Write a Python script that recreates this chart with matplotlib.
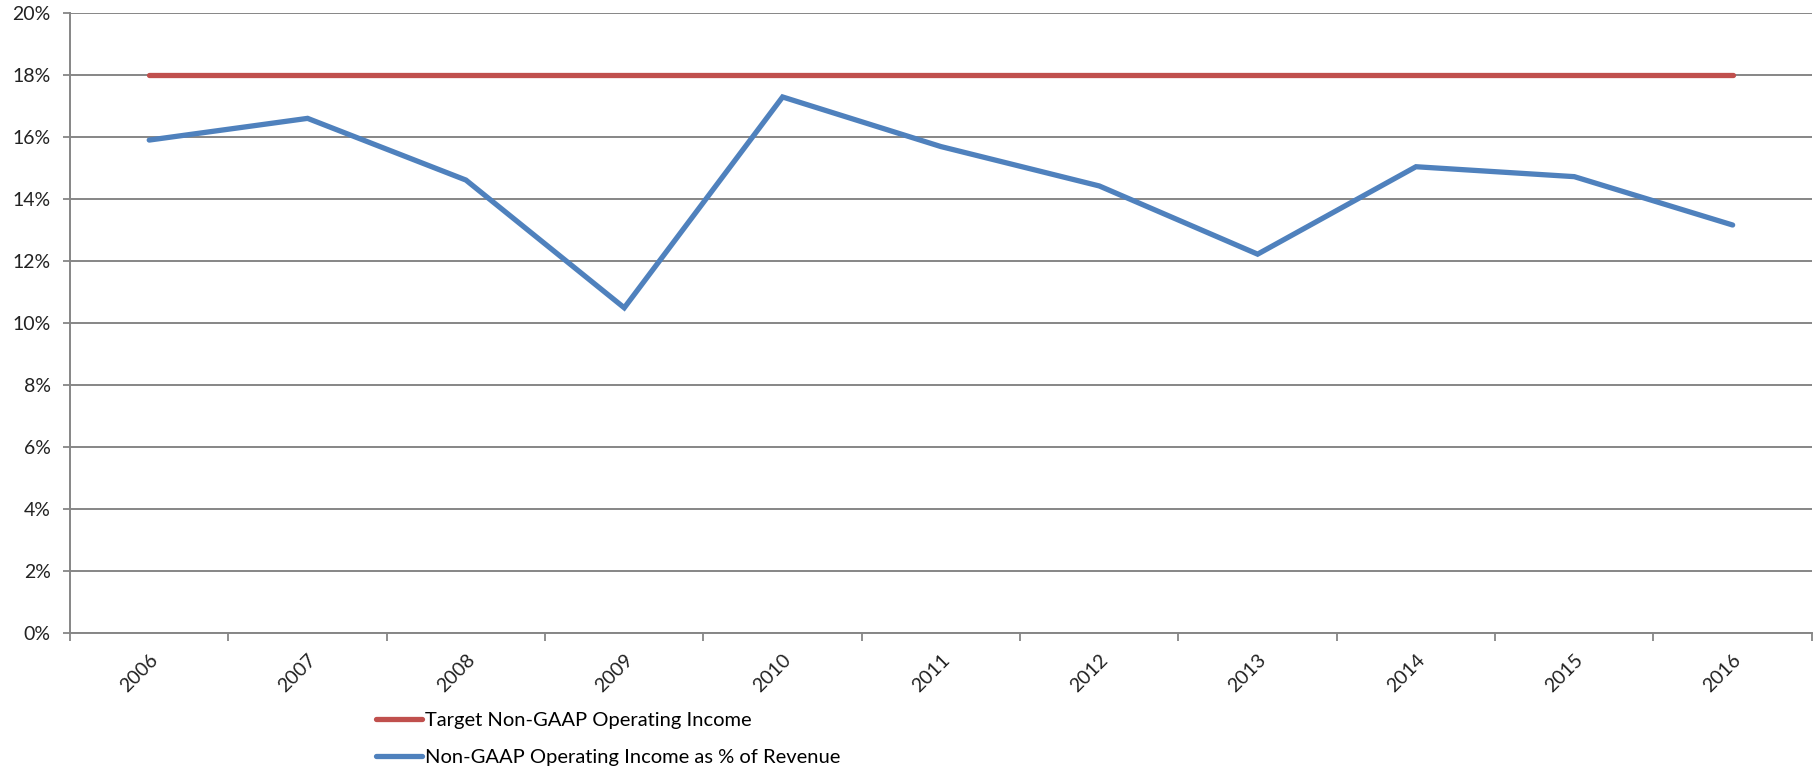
import matplotlib
matplotlib.use("Agg")
import matplotlib.pyplot as plt
from matplotlib.ticker import FixedLocator, PercentFormatter

# ============================================================
# Data
# ============================================================

years = ["2006", "2007", "2008", "2009", "2010", "2011",
         "2012", "2013", "2014", "2015", "2016"]

target_income = [18.0] * len(years)

income_pct_revenue = [15.89, 16.59, 14.60, 10.48, 17.28, 15.68,
                      14.41, 12.21, 15.03, 14.71, 13.15]

RED = "#C0504D"
BLUE = "#4F81BD"
GRID = "#868686"

plt.rcParams["font.family"] = ["Lato", "DejaVu Sans"]

# ============================================================
# Plot
# ============================================================

fig = plt.figure(figsize=(18.2, 7.66), dpi=100)
ax = fig.add_axes([0.0385, 0.174, 0.957, 0.8095])

x = range(len(years))
ax.plot(x, target_income, color=RED, linewidth=3.8, solid_capstyle="round",
        label="Target Non-GAAP Operating Income", zorder=3)
ax.plot(x, income_pct_revenue, color=BLUE, linewidth=3.8, solid_capstyle="round",
        solid_joinstyle="miter", label="Non-GAAP Operating Income as % of Revenue", zorder=4)

ax.set_xlim(-0.5, len(years) - 0.5)
ax.set_ylim(0, 20)

# y axis: 2% steps with gridlines
ax.set_yticks(range(0, 21, 2))
ax.yaxis.set_major_formatter(PercentFormatter(decimals=0))
ax.yaxis.grid(True, color=GRID, linewidth=1.4)
ax.set_axisbelow(True)
ax.tick_params(axis="y", length=5, width=1.3, color=GRID, pad=9,
               labelsize=14, labelcolor="#222222")

# x axis: tick marks between categories, labels at centres
ax.xaxis.set_major_locator(FixedLocator(list(x)))
ax.set_xticklabels(years, rotation=45, ha="right", rotation_mode="anchor")
ax.xaxis.set_minor_locator(FixedLocator([i - 0.5 for i in range(len(years) + 1)]))
ax.tick_params(axis="x", which="major", length=0, pad=13,
               labelsize=14, labelcolor="#222222")
ax.tick_params(axis="x", which="minor", length=6, width=1.3, color=GRID)

for side in ["top", "right"]:
    ax.spines[side].set_visible(False)
for side in ["left", "bottom"]:
    ax.spines[side].set_color(GRID)
    ax.spines[side].set_linewidth(1.4)

leg = fig.legend(loc="upper left", bbox_to_anchor=(0.2066, 0.070),
                 frameon=False, fontsize=14.5, handlelength=2.3, handletextpad=0.15,
                 labelspacing=0.95, borderaxespad=0, borderpad=0)
for line in leg.get_lines():
    line.set_linewidth(3.8)

fig.savefig("out.png", dpi=100)
